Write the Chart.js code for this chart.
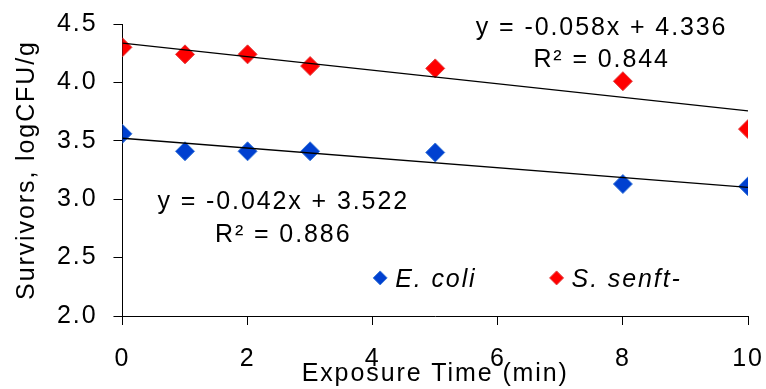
<!DOCTYPE html>
<html><head><meta charset="utf-8">
<script src="https://cdn.jsdelivr.net/npm/chart.js@4.4.1/dist/chart.umd.min.js"></script>
<style>html,body{margin:0;padding:0;background:#fff;overflow:hidden}canvas{display:block}</style>
</head><body>
<canvas id="c" width="766" height="389"></canvas>
<script>
// ---- data ----
const seriesNames = ['E. coli', 'S. senft-'];
const timesEcoli = [0, 1, 2, 3, 5, 8, 10];
const valuesEcoli = [3.56, 3.41, 3.41, 3.41, 3.40, 3.13, 3.11];
const timesSenft = [0, 1, 2, 3, 5, 8, 10];
const valuesSenft = [4.30, 4.24, 4.24, 4.14, 4.12, 4.01, 3.60];
const trendX = [0, 10];
const trendEcoli = [3.522, 3.102];
const trendSenft = [4.336, 3.756];
const eqEcoli = ['y = -0.042x + 3.522', 'R² = 0.886'];
const eqSenft = ['y = -0.058x + 4.336', 'R² = 0.844'];
const xTickValues = [0, 2, 4, 6, 8, 10];
const xTickLabels = ['0', '2', '4', '6', '8', '10'];
const yTickValues = [2.0, 2.5, 3.0, 3.5, 4.0, 4.5];
const yTickLabels = ['2.0', '2.5', '3.0', '3.5', '4.0', '4.5'];
const xTitle = 'Exposure Time (min)';
const yTitle = 'Survivors, logCFU/g';

// ---- styling ----
const FAMILY = '"Liberation Sans", Arial, sans-serif';
const FS = 25;
const LS = '1.9px';
const BLUE = '#0040d0', BLUE_EDGE = '#3a78d8';
const RED = '#ff0000', RED_EDGE = '#e04040';

const toPts = (xs, ys) => xs.map((x, i) => ({x: x, y: ys[i]}));

const spacingPlugin = {
  id: 'spacing',
  beforeUpdate(c) { c.ctx.letterSpacing = LS; },
  beforeLayout(c) { c.ctx.letterSpacing = LS; },
  beforeDraw(c) { c.ctx.letterSpacing = LS; }
};

const overlayPlugin = {
  id: 'overlay',
  afterDraw(c, args, opts) {
    const ctx = c.ctx, xs = c.scales.x, ys = c.scales.y, ca = c.chartArea;
    ctx.save();
    ctx.letterSpacing = LS;
    ctx.fillStyle = '#000';
    ctx.textBaseline = 'middle';
    ctx.textAlign = 'center';
    ctx.font = FS + 'px ' + FAMILY;
    opts.labels.forEach(l => {
      ctx.fillText(l.text, xs.getPixelForValue(l.x), ys.getPixelForValue(l.y));
    });
    // legend
    const ly = ca.top + opts.legendY * ca.height;
    ctx.textAlign = 'left';
    ctx.font = 'italic ' + FS + 'px ' + FAMILY;
    c.data.datasets.filter(d => d.inLegend).forEach((d, i) => {
      const mx = ca.left + opts.legendX[i] * ca.width;
      ctx.fillStyle = d.backgroundColor;
      ctx.strokeStyle = d.borderColor;
      ctx.lineWidth = 1;
      Chart.helpers.drawPoint(ctx, {pointStyle: 'rectRot', radius: 7, borderWidth: 1, rotation: 0}, mx, ly - 1);
      ctx.fillStyle = '#000';
      ctx.fillText(d.label, mx + 15, ly + 1);
    });
    ctx.restore();
  }
};

const tickFont = {family: FAMILY, size: FS, lineHeight: 1.2};

new Chart(document.getElementById('c'), {
  type: 'scatter',
  data: {
    datasets: [
      {label: 'trendS', data: toPts(trendX, trendSenft), showLine: true, borderColor: '#000', borderWidth: 1.3, pointRadius: 0, order: -1},
      {label: 'trendE', data: toPts(trendX, trendEcoli), showLine: true, borderColor: '#000', borderWidth: 1.3, pointRadius: 0, order: -1},
      {label: seriesNames[0], inLegend: true, data: toPts(timesEcoli, valuesEcoli), pointStyle: 'rectRot', pointRadius: 9.5, pointBorderWidth: 1,
        backgroundColor: BLUE, borderColor: BLUE_EDGE},
      {label: seriesNames[1], inLegend: true, data: toPts(timesSenft, valuesSenft), pointStyle: 'rectRot', pointRadius: 9.5, pointBorderWidth: 1,
        backgroundColor: RED, borderColor: RED_EDGE}
    ]
  },
  options: {
    responsive: false,
    animation: false,
    devicePixelRatio: 1,
    layout: {autoPadding: false, padding: {top: 24, right: 18, bottom: 0, left: 0}},
    plugins: {
      legend: {display: false},
      tooltip: {enabled: false},
      overlay: {
        labels: [
          {text: eqSenft[0], x: 7.66, y: 4.468},
          {text: eqSenft[1], x: 7.66, y: 4.194},
          {text: eqEcoli[0], x: 2.57, y: 2.979},
          {text: eqEcoli[1], x: 2.57, y: 2.693}
        ],
        legendX: [0.412, 0.694],
        legendY: 0.873
      }
    },
    scales: {
      x: {
        type: 'linear', min: 0, max: 10,
        afterBuildTicks: s => { s.ticks = xTickValues.map(v => ({value: v})); },
        afterFit: s => { s.paddingLeft = 0; s.paddingRight = 0; },
        ticks: {
          color: '#000', padding: 19, maxRotation: 0,
          font: tickFont,
          callback: (v, i) => xTickLabels[i]
        },
        grid: {display: true, drawOnChartArea: false, drawTicks: true, tickLength: 9, color: '#000', lineWidth: 1},
        border: {display: true, color: '#000', width: 1},
        title: {display: true, text: xTitle, color: '#000', font: tickFont, padding: {top: -34, bottom: 0}}
      },
      y: {
        type: 'linear', min: 2, max: 4.5,
        afterBuildTicks: s => { s.ticks = yTickValues.map(v => ({value: v})); },
        afterFit: s => { s.paddingTop = 0; s.paddingBottom = 0; },
        ticks: {
          color: '#000', padding: 16,
          font: tickFont,
          callback: (v, i) => yTickLabels[i]
        },
        grid: {display: true, drawOnChartArea: false, drawTicks: true, tickLength: 9, color: '#000', lineWidth: 1},
        border: {display: true, color: '#000', width: 1},
        title: {display: true, text: yTitle, color: '#000', font: tickFont, padding: {top: 12, bottom: -1}}
      }
    }
  },
  plugins: [spacingPlugin, overlayPlugin]
});
</script>
</body></html>
